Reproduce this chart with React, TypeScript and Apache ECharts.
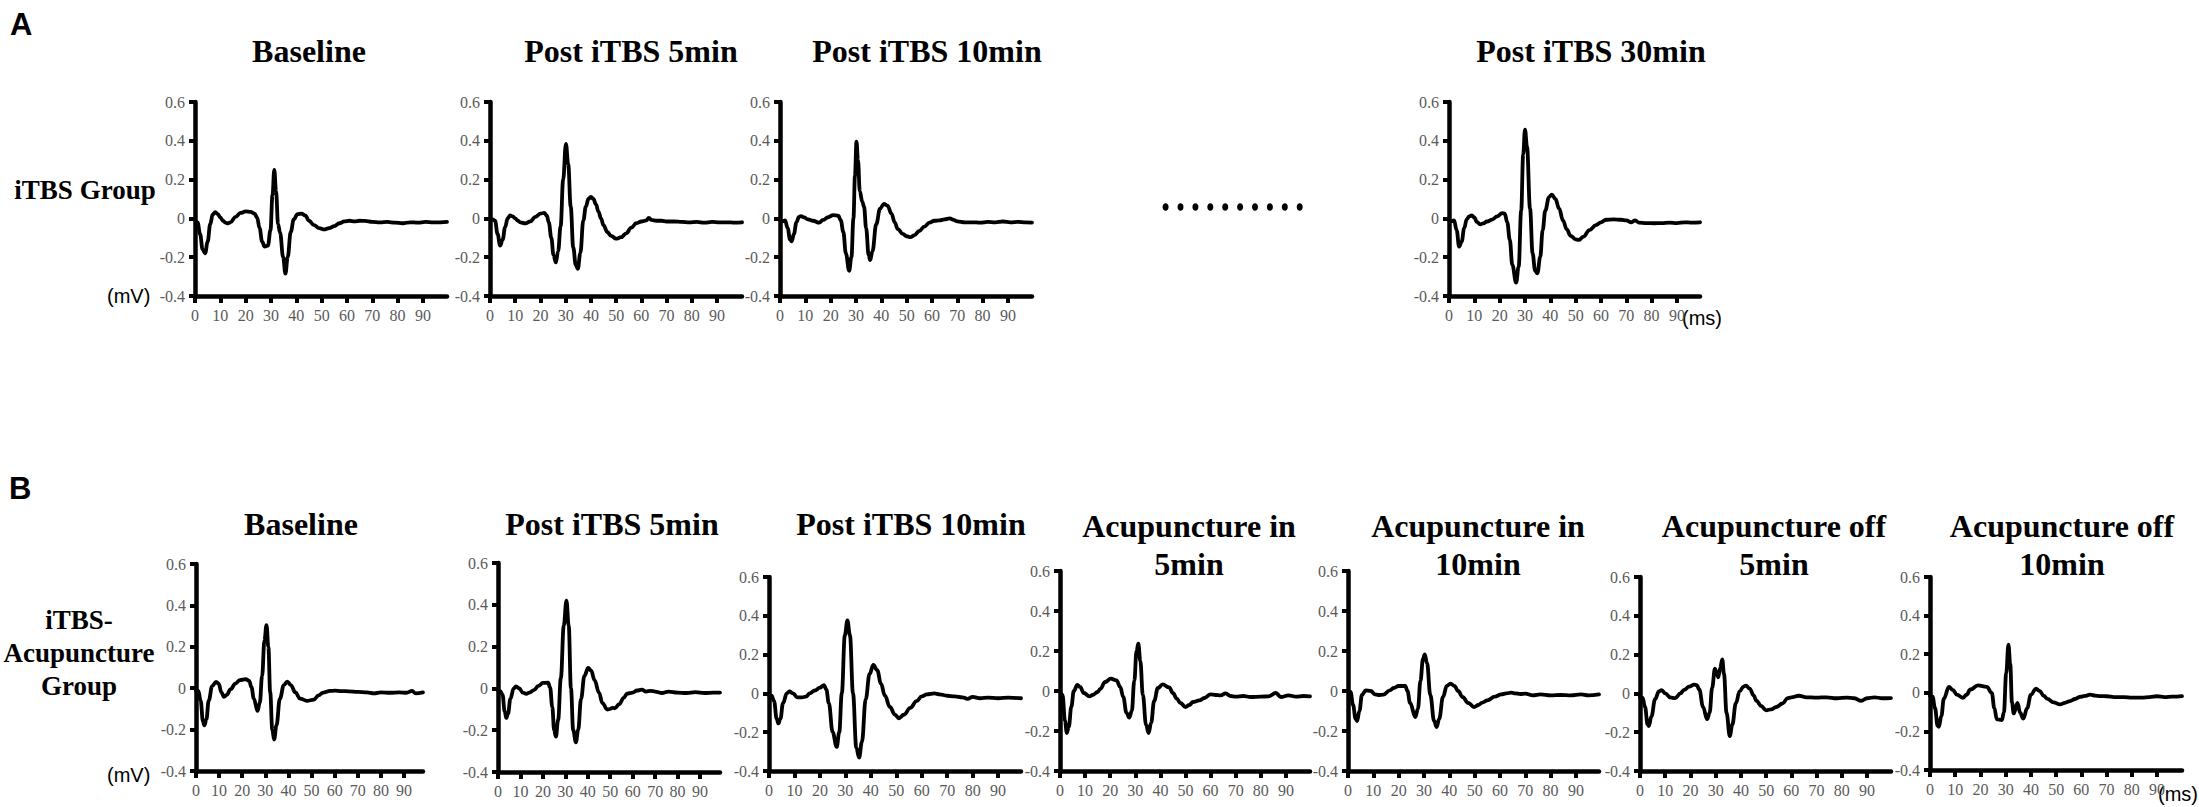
import { useEffect, useRef } from "react";
import * as echarts from "echarts";

// ---------- axis ticks ----------
const X_TICKS = [0, 10, 20, 30, 40, 50, 60, 70, 80, 90];
const Y_MIN = -0.4;
const Y_MAX = 0.6;
const Y_STEP = 0.2;

// ---------- titles ----------
const TITLES_A: string[][] = [["Baseline"], ["Post iTBS 5min"], ["Post iTBS 10min"], ["Post iTBS 30min"]];
const TITLES_B: string[][] = [
  ["Baseline"],
  ["Post iTBS 5min"],
  ["Post iTBS 10min"],
  ["Acupuncture in", "5min"],
  ["Acupuncture in", "10min"],
  ["Acupuncture off", "5min"],
  ["Acupuncture off", "10min"],
];
const ROW_A_LABEL = ["iTBS Group"];
const ROW_B_LABEL = ["iTBS-", "Acupuncture", "Group"];

// ---------- MEP waveforms: [time ms, amplitude mV] ----------
const A_BASELINE: [number, number][] = [
  [0, -0.01], [1, -0.02], [2, -0.08], [3, -0.16], [4, -0.18], [5, -0.12], [6, -0.03], [7, 0.02], [8, 0.032], [9, 0.022],
  [10, 0.005], [11, -0.012], [12, -0.022], [13, -0.026], [14, -0.02], [16, 0.008], [18, 0.028], [20, 0.036], [22, 0.034],
  [23.5, 0.025], [24.5, 0.005], [25.5, -0.05], [26.5, -0.12], [27.5, -0.145], [28.8, -0.14], [29.8, -0.06], [30.6, 0.12],
  [31.3, 0.25], [32, 0.14], [32.8, -0.03], [33.6, -0.075], [34.8, -0.2], [35.7, -0.285], [36.6, -0.2], [37.8, -0.07],
  [39, -0.005], [40.5, 0.022], [42, 0.025], [43.5, 0.015], [45, -0.012], [47, -0.035], [49, -0.05], [51, -0.057],
  [53, -0.05], [55, -0.04], [57, -0.025], [59, -0.015], [61, -0.012], [63, -0.015], [65, -0.012], [67, -0.013],
  [70, -0.018], [73, -0.02], [76, -0.018], [79, -0.022], [82, -0.025], [85, -0.02], [88, -0.022], [91, -0.018],
  [94, -0.02], [97, -0.02], [99.5, -0.018],
];
const A_POST5: [number, number][] = [
  [0, -0.005], [1, -0.005], [2, -0.012], [3, -0.08], [4, -0.14], [5, -0.11], [6, -0.045], [7, 0], [8, 0.015], [9, 0.01],
  [10, 0], [11, -0.012], [12, -0.02], [14, -0.026], [16, -0.015], [18, 0.008], [20, 0.025], [21.5, 0.028], [22.5, 0.015],
  [23.3, -0.02], [24.3, -0.1], [25.2, -0.19], [26.1, -0.227], [27, -0.17], [28, -0.04], [29, 0.2], [30.1, 0.384],
  [31, 0.28], [32, 0.06], [33, -0.15], [34, -0.24], [34.8, -0.26], [35.8, -0.18], [37, -0.01], [38, 0.06], [39, 0.1],
  [40, 0.111], [41, 0.1], [42, 0.072], [43, 0.035], [44, 0], [45, -0.035], [46.5, -0.07], [48, -0.09], [50, -0.104],
  [52, -0.097], [54, -0.077], [56, -0.048], [58, -0.025], [60, -0.016], [62, -0.01], [63, 0.003], [64, -0.008],
  [66, -0.012], [68, -0.012], [70, -0.016], [73, -0.016], [76, -0.018], [79, -0.02], [82, -0.018], [85, -0.022],
  [88, -0.018], [91, -0.02], [94, -0.02], [97, -0.022], [99.9, -0.02],
];
const A_POST10: [number, number][] = [
  [0, -0.01], [1, -0.015], [2, -0.01], [3, -0.05], [4, -0.11], [4.6, -0.118], [5.5, -0.08], [6.5, -0.02], [7.5, 0.008],
  [8.3, 0.012], [9.5, 0.005], [11, -0.005], [13, -0.012], [15.5, -0.022], [17, -0.008], [19, 0.006], [21, 0.017],
  [23, 0.014], [24, -0.01], [25, -0.07], [26, -0.18], [27.3, -0.27], [28.2, -0.2], [29, 0], [29.6, 0.22], [30.2, 0.395],
  [30.8, 0.3], [31.5, 0.14], [32.5, 0.085], [33.2, 0.06], [34, -0.05], [35, -0.19], [35.6, -0.215], [36.5, -0.17],
  [38, -0.03], [39.5, 0.05], [41, 0.075], [42.5, 0.065], [44, 0.025], [45.3, -0.02], [46.5, -0.055], [48.5, -0.08],
  [50, -0.092], [51.5, -0.097], [53, -0.087], [55, -0.065], [57, -0.042], [59, -0.022], [61, -0.012], [63, -0.01],
  [65, -0.005], [67, 0], [68.5, -0.008], [70, -0.015], [73, -0.02], [76, -0.02], [79, -0.022], [82, -0.018],
  [85, -0.02], [88, -0.016], [91, -0.02], [94, -0.018], [97, -0.02], [99.5, -0.022],
];
const A_POST30: [number, number][] = [
  [0, -0.01], [1, -0.014], [2, -0.01], [3, -0.06], [4, -0.145], [5, -0.12], [6, -0.05], [7, -0.005], [8, 0.01], [9, 0.015],
  [10, 0.005], [11, -0.018], [12.3, -0.031], [13.5, -0.026], [15, -0.016], [17, -0.006], [19, 0.01], [21, 0.027],
  [22, 0.025], [23, -0.02], [24, -0.11], [25, -0.24], [26.5, -0.331], [27.5, -0.25], [28.5, 0.04], [29.3, 0.33],
  [30, 0.458], [30.8, 0.37], [32, 0.05], [33, -0.18], [34, -0.27], [34.9, -0.283], [36, -0.2], [37, -0.06], [38, 0.04],
  [39.5, 0.11], [40.6, 0.123], [42, 0.1], [43.5, 0.05], [45, -0.01], [46.5, -0.057], [48, -0.09], [50, -0.108],
  [51.2, -0.111], [53, -0.095], [55.5, -0.06], [58, -0.035], [60, -0.02], [62, -0.007], [65, -0.005], [68, -0.007],
  [70, -0.01], [72, -0.02], [73.5, -0.01], [75, -0.022], [78, -0.024], [81, -0.025], [84, -0.024], [87, -0.022],
  [90, -0.024], [93, -0.02], [96, -0.022], [99.1, -0.02],
];
const B_BASELINE: [number, number][] = [
  [0, -0.01], [1, -0.013], [2, -0.06], [3, -0.16], [3.6, -0.179], [4.5, -0.15], [5.5, -0.06], [7, 0.01], [8.7, 0.031],
  [9.8, 0.022], [11, -0.02], [12.1, -0.042], [13.3, -0.032], [15, -0.005], [17, 0.022], [19, 0.039], [21.5, 0.044],
  [23, 0.035], [24, 0.005], [25, -0.05], [26.6, -0.11], [27.6, -0.07], [28.6, 0.06], [29.6, 0.23], [30.5, 0.305],
  [31.3, 0.2], [32.1, -0.02], [33, -0.2], [33.8, -0.248], [34.8, -0.18], [36.3, -0.05], [38, 0.015], [39.5, 0.032],
  [41, 0.015], [43, -0.02], [45, -0.05], [48, -0.061], [51, -0.055], [53, -0.035], [55, -0.021], [58, -0.013],
  [60, -0.012], [63, -0.014], [66, -0.015], [70, -0.018], [74, -0.02], [77, -0.025], [80, -0.02], [84, -0.022],
  [88, -0.02], [91, -0.022], [93.5, -0.013], [95, -0.025], [98.2, -0.02],
];
const B_POST5: [number, number][] = [
  [0, -0.01], [1, -0.013], [2, -0.03], [3, -0.11], [3.7, -0.141], [4.5, -0.12], [5.5, -0.05], [7, 0], [8, 0.01], [9.5, 0],
  [11, -0.02], [12.6, -0.026], [14, -0.02], [16, -0.008], [18, 0.012], [20, 0.026], [22.3, 0.027], [23.2, 0.005],
  [24.2, -0.09], [25, -0.2], [25.8, -0.231], [26.8, -0.15], [28, 0.05], [29.3, 0.3], [30.5, 0.42], [31.5, 0.3],
  [32.5, 0], [33.5, -0.2], [34.7, -0.258], [35.7, -0.2], [37, -0.05], [38.5, 0.06], [40.2, 0.098], [41.5, 0.085],
  [43, 0.04], [45, -0.02], [46.5, -0.07], [48.7, -0.101], [50, -0.098], [51, -0.093], [52, -0.095], [54, -0.075],
  [56, -0.045], [57.5, -0.025], [60, -0.02], [62, -0.01], [64, -0.006], [66, -0.015], [68, -0.012], [70, -0.015],
  [73, -0.022], [76, -0.015], [80, -0.02], [84, -0.022], [88, -0.018], [92, -0.022], [96, -0.02], [98.9, -0.02],
];
const B_POST10: [number, number][] = [
  [0, -0.01], [1, -0.012], [2, -0.04], [3, -0.13], [3.7, -0.155], [4.5, -0.13], [5.5, -0.05], [7, 0], [8, 0.01], [9.5, 0],
  [11, -0.02], [13, -0.02], [14.5, -0.017], [16, 0], [18, 0.015], [20, 0.03], [21.6, 0.043], [22.5, 0.02], [23.5, -0.05],
  [25, -0.2], [26.6, -0.276], [27.6, -0.2], [28.6, 0], [29.8, 0.3], [30.8, 0.376], [31.8, 0.3], [33, 0], [34.3, -0.28],
  [35.4, -0.331], [36.5, -0.25], [38, -0.03], [39.5, 0.1], [41, 0.147], [42.5, 0.12], [44, 0.05], [45.5, -0.01],
  [47.5, -0.07], [49.5, -0.11], [51, -0.128], [53, -0.11], [55.5, -0.075], [58, -0.04], [60, -0.015], [62, -0.005],
  [65, 0], [67, -0.005], [70, -0.012], [73, -0.015], [76, -0.02], [78, -0.028], [80, -0.018], [83, -0.025],
  [86, -0.022], [90, -0.025], [94, -0.022], [99, -0.025],
];
const B_ACU_IN5: [number, number][] = [
  [0, -0.005], [1, -0.02], [2, -0.15], [2.7, -0.21], [3.5, -0.18], [4.5, -0.08], [5.5, 0], [6.9, 0.03], [8, 0.02],
  [9.5, -0.01], [11.7, -0.027], [13, -0.02], [15, -0.005], [16, 0.01], [18, 0.045], [20.2, 0.062], [22.5, 0.053],
  [24, 0.02], [25.2, -0.03], [26.5, -0.11], [27.6, -0.133], [28.6, -0.1], [29.6, 0.05], [30.5, 0.2], [31.2, 0.237],
  [32, 0.15], [33, -0.02], [34.3, -0.17], [35.3, -0.21], [36.3, -0.16], [37.5, -0.05], [39, 0.015], [40.9, 0.033],
  [43.5, 0.018], [45, -0.01], [46.5, -0.038], [48, -0.06], [50, -0.08], [51.5, -0.07], [53, -0.055], [55.5, -0.047],
  [57.5, -0.035], [60, -0.017], [62, -0.02], [64, -0.022], [66, -0.012], [68, -0.025], [70, -0.028], [73, -0.025],
  [76, -0.03], [80, -0.028], [83, -0.027], [86, -0.01], [88, -0.03], [91, -0.022], [94, -0.028], [97, -0.025],
  [99.6, -0.027],
];
const B_ACU_IN10: [number, number][] = [
  [0, 0], [1, -0.005], [2, -0.07], [3, -0.14], [3.6, -0.15], [4.5, -0.1], [5.5, -0.02], [7, 0.003], [9, 0], [10.6, -0.017],
  [12, -0.02], [14, -0.018], [16.5, 0.003], [18, 0.015], [20, 0.025], [22.6, 0.025], [23.5, 0], [24.5, -0.06],
  [26.6, -0.13], [27.6, -0.09], [28.6, 0.05], [29.6, 0.16], [30.3, 0.183], [31.2, 0.14], [32.5, -0.02], [34, -0.15],
  [35, -0.18], [36, -0.14], [37.5, -0.03], [39, 0.025], [40.5, 0.037], [42, 0.025], [43.5, 0], [45.2, -0.03],
  [47.5, -0.06], [49.8, -0.08], [51.5, -0.07], [53, -0.058], [55, -0.047], [58, -0.028], [60.5, -0.017], [62.5, -0.012],
  [64.5, -0.008], [66, -0.012], [68, -0.015], [70, -0.013], [73, -0.022], [76, -0.017], [80, -0.022], [84, -0.02],
  [88, -0.022], [92, -0.017], [95, -0.022], [99.1, -0.017],
];
const B_ACU_OFF5: [number, number][] = [
  [0, -0.02], [1, -0.022], [2, -0.07], [3, -0.16], [3.5, -0.168], [4.5, -0.12], [6, -0.03], [7.5, 0.01], [8.6, 0.017],
  [10, 0], [12, -0.021], [14, -0.024], [16, 0], [17.5, 0.018], [19.5, 0.035], [21.5, 0.045], [22.5, 0.043], [23.5, 0.02],
  [25, -0.07], [26.6, -0.133], [27.6, -0.1], [28.6, 0.03], [29.7, 0.127], [30.3, 0.11], [31, 0.083], [31.8, 0.13],
  [32.6, 0.175], [33.3, 0.1], [34.3, -0.1], [35.6, -0.22], [36.6, -0.16], [38, -0.05], [39.5, 0.01], [41, 0.035],
  [42, 0.04], [43.5, 0.025], [45, -0.01], [46.2, -0.038], [48, -0.065], [50, -0.087], [52, -0.082], [54, -0.07],
  [56.5, -0.052], [58.5, -0.025], [60, -0.02], [63, -0.012], [66, -0.02], [70, -0.022], [74, -0.02], [78, -0.025],
  [82, -0.022], [85, -0.025], [87.7, -0.038], [90, -0.025], [93, -0.02], [96, -0.025], [99.5, -0.024],
];
const B_ACU_OFF10: [number, number][] = [
  [0, -0.015], [1, -0.02], [2, -0.08], [3, -0.17], [3.5, -0.176], [4.5, -0.12], [5.5, -0.03], [7.5, 0.031], [9, 0.015],
  [10.6, -0.009], [13, -0.026], [14.5, -0.01], [16, 0.017], [19, 0.038], [22.5, 0.031], [24.5, 0], [25.5, -0.08],
  [26.5, -0.138], [28.5, -0.141], [29.3, -0.1], [30.2, 0.1], [31.1, 0.25], [31.8, 0.15], [32.5, -0.05], [33.2, -0.107],
  [34.7, -0.052], [35.7, -0.103], [37, -0.134], [38.5, -0.08], [40, -0.01], [42, 0.021], [43.5, 0.01], [45, -0.015],
  [46.5, -0.031], [49, -0.05], [51.5, -0.06], [53.5, -0.052], [55.5, -0.043], [57.5, -0.032], [59.5, -0.021],
  [61.5, -0.016], [63.5, -0.009], [65.5, -0.015], [67.5, -0.017], [70, -0.018], [73, -0.022], [77, -0.022], [80, -0.025],
  [84, -0.025], [87, -0.022], [90, -0.018], [93, -0.022], [96, -0.02], [99.9, -0.017],
];

// ---------- layout (pixels) ----------
type Panel = {
  data: [number, number][];
  left: number; top: number; width: number; height: number; xMax: number;
  title: string[]; tx: number; ty: number;
};

const PANELS: Panel[] = [
  { data: A_BASELINE, left: 195, top: 102, width: 252, height: 194, xMax: 99.5, title: TITLES_A[0], tx: 309, ty: 51 },
  { data: A_POST5, left: 490, top: 102, width: 252, height: 194, xMax: 99.9, title: TITLES_A[1], tx: 631, ty: 51 },
  { data: A_POST10, left: 780, top: 102, width: 252, height: 194, xMax: 99.5, title: TITLES_A[2], tx: 927, ty: 51 },
  { data: A_POST30, left: 1449, top: 102, width: 251, height: 194, xMax: 99.1, title: TITLES_A[3], tx: 1591, ty: 51 },
  { data: B_BASELINE, left: 196, top: 564, width: 227, height: 207, xMax: 98.2, title: TITLES_B[0], tx: 301, ty: 524 },
  { data: B_POST5, left: 498, top: 563, width: 222, height: 209, xMax: 98.9, title: TITLES_B[1], tx: 612, ty: 524 },
  { data: B_POST10, left: 769, top: 577, width: 252, height: 194, xMax: 99, title: TITLES_B[2], tx: 911, ty: 524 },
  { data: B_ACU_IN5, left: 1060, top: 571, width: 250, height: 200, xMax: 99.6, title: TITLES_B[3], tx: 1189, ty: 526 },
  { data: B_ACU_IN10, left: 1348, top: 571, width: 251, height: 200, xMax: 99.1, title: TITLES_B[4], tx: 1478, ty: 526 },
  { data: B_ACU_OFF5, left: 1640, top: 577, width: 251, height: 194, xMax: 99.5, title: TITLES_B[5], tx: 1774, ty: 526 },
  { data: B_ACU_OFF10, left: 1930, top: 577, width: 252, height: 193, xMax: 99.9, title: TITLES_B[6], tx: 2062, ty: 526 },
];

const SERIF = '"Liberation Serif", "Times New Roman", serif';
const SANS = '"Liberation Sans", Arial, sans-serif';
const TICK_COLOR = "#5a5a5a";

function buildOption() {
  const grid = PANELS.map((p) => ({
    left: p.left, top: p.top, width: p.width, height: p.height, outerBoundsMode: "none",
  }));
  const xAxis = PANELS.map((p, i) => ({
    type: "value", gridIndex: i, min: 0, max: p.xMax, interval: 10,
    splitLine: { show: false },
    axisLine: { show: true, onZero: false, lineStyle: { color: "#000", width: 4.5 } },
    axisTick: { show: true, length: 7, customValues: X_TICKS, lineStyle: { color: "#000", width: 4 } },
    axisLabel: { show: true, customValues: X_TICKS, color: TICK_COLOR, fontFamily: SERIF, fontSize: 16, margin: 11 },
  }));
  const yAxis = PANELS.map((p, i) => ({
    type: "value", gridIndex: i, min: Y_MIN, max: Y_MAX, interval: Y_STEP,
    splitLine: { show: false },
    axisLine: { show: true, onZero: false, lineStyle: { color: "#000", width: 4.5 } },
    axisTick: { show: true, length: 6, lineStyle: { color: "#000", width: 4 } },
    axisLabel: { show: true, color: TICK_COLOR, fontFamily: SERIF, fontSize: 16, margin: 10 },
  }));
  const series = PANELS.map((p, i) => ({
    type: "line", xAxisIndex: i, yAxisIndex: i, data: p.data, showSymbol: false, symbol: "none",
    smooth: 0.4, smoothMonotone: "x", silent: true,
    lineStyle: { color: "#000", width: 3.8, cap: "round", join: "round" },
  }));

  const graphic: any[] = [];
  const text = (x: number, y: number, t: string, font: string, align = "center") =>
    graphic.push({
      type: "text", x, y, silent: true,
      style: { text: t, font, fill: "#000", align, verticalAlign: "middle" },
    });

  // panel titles
  PANELS.forEach((p) => {
    p.title.forEach((line, k) => text(p.tx, p.ty + k * 38, line, `bold 32px ${SERIF}`));
  });
  // row labels
  ROW_A_LABEL.forEach((line, k) => text(85, 190 + k * 33, line, `bold 27px ${SERIF}`));
  ROW_B_LABEL.forEach((line, k) => text(79, 620 + k * 33, line, `bold 27px ${SERIF}`));
  // panel letters
  text(10, 24, "A", `bold 31px ${SANS}`, "left");
  text(9, 488, "B", `bold 31px ${SANS}`, "left");
  // units
  text(107, 296, "(mV)", `20px ${SANS}`, "left");
  text(107, 775, "(mV)", `20px ${SANS}`, "left");
  text(1682, 318, "(ms)", `20px ${SANS}`, "left");
  text(2158, 794, "(ms)", `20px ${SANS}`, "left");
  // ellipsis dots between 10 min and 30 min
  for (let k = 0; k < 10; k++) {
    graphic.push({
      type: "ellipse", silent: true,
      shape: { cx: 1165.6 + k * 14.9, cy: 207, rx: 3, ry: 3.8 },
      style: { fill: "#000" },
    });
  }

  return {
    animation: false,
    backgroundColor: "#ffffff",
    grid, xAxis, yAxis, series, graphic,
  };
}

export default function App() {
  const ref = useRef<HTMLDivElement>(null);
  useEffect(() => {
    if (!ref.current) return;
    const chart = echarts.init(ref.current, undefined, { renderer: "svg", width: 2199, height: 807 });
    chart.setOption(buildOption() as any);
    return () => chart.dispose();
  }, []);
  return (
    <div
      ref={ref}
      style={{ position: "fixed", left: 0, top: 0, width: 2199, height: 807, background: "#fff" }}
    />
  );
}
